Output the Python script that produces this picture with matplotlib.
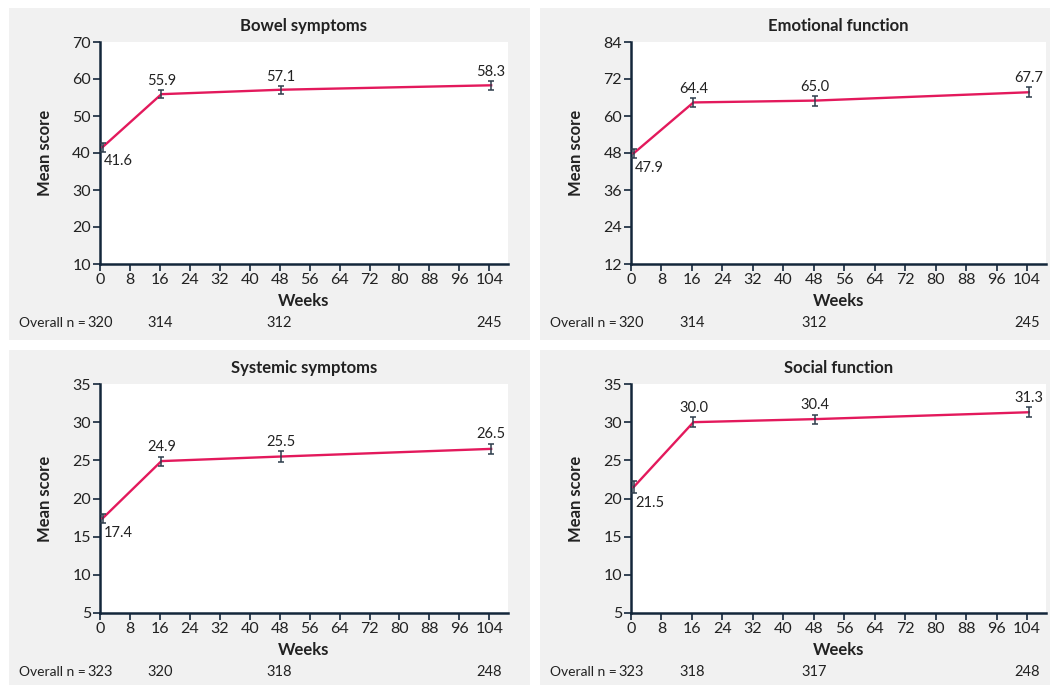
import matplotlib
matplotlib.use("Agg")
import matplotlib.pyplot as plt
from matplotlib.patches import Rectangle
import numpy as np

plt.rcParams['font.family'] = ['Lato', 'DejaVu Sans']

# visit weeks (plotted slightly after the nominal week) and nominal weeks for n row
weeks = [0.7, 16.4, 48.4, 104.5]
n_weeks = [0, 16, 48, 104]

titles = ["Bowel symptoms", "Emotional function", "Systemic symptoms", "Social function"]
means = [
    [41.6, 55.9, 57.1, 58.3],
    [47.9, 64.4, 65.0, 67.7],
    [17.4, 24.9, 25.5, 26.5],
    [21.5, 30.0, 30.4, 31.3],
]
errors = [
    [1.2, 1.0, 1.1, 1.2],
    [1.5, 1.4, 1.6, 1.6],
    [0.6, 0.6, 0.7, 0.7],
    [0.8, 0.65, 0.6, 0.65],
]
n_counts = [
    [320, 314, 312, 245],
    [320, 314, 312, 245],
    [323, 320, 318, 248],
    [323, 318, 317, 248],
]
y_ranges = [(10, 70, 10), (12, 84, 12), (5, 35, 5), (5, 35, 5)]
x_ticks = list(range(0, 105, 8))

W, H = 1050, 686
fig = plt.figure(figsize=(W / 100, H / 100), dpi=100)
fig.patch.set_facecolor('white')

line_col = '#e3195c'
err_col = '#2e3d4c'
axis_col = '#13263a'
text_col = '#222222'
panel_col = '#f1f1f1'

# panel boxes (pixels: x0, y0 top, x1, y1 bottom) and axes boxes
panels = [(9, 8, 530, 340), (540, 8, 1050, 340), (9, 350, 530, 685), (540, 350, 1050, 685)]
axes_px = [(100, 42, 508, 264), (631, 42, 1046, 264), (100, 384, 508, 613), (631, 384, 1046, 613)]


def to_fig(x0, y0, x1, y1):
    return [x0 / W, 1 - y1 / H, (x1 - x0) / W, (y1 - y0) / H]


for i in range(4):
    px = panels[i]
    fig.patches.append(Rectangle((px[0] / W, 1 - px[3] / H), (px[2] - px[0]) / W, (px[3] - px[1]) / H,
                                 transform=fig.transFigure, facecolor=panel_col, edgecolor='none', zorder=-5))

    ax = fig.add_axes(to_fig(*axes_px[i]))
    ax.set_zorder(2)
    ax.set_facecolor('white')
    lo, hi, step = y_ranges[i]
    ax.set_ylim(lo, hi)
    ax.set_xlim(0, 109)
    ax.set_yticks(np.arange(lo, hi + 0.1, step))
    ax.set_xticks(x_ticks)

    for s in ['top', 'right']:
        ax.spines[s].set_visible(False)
    for s in ['left', 'bottom']:
        ax.spines[s].set_color(axis_col)
        ax.spines[s].set_linewidth(1.8)
    ax.tick_params(direction='out', length=5, width=1.2, color=axis_col,
                   labelsize=11.5, labelcolor=text_col, pad=1.5)

    y = means[i]
    e = errors[i]
    ax.plot(weeks, y, color=line_col, lw=1.7, zorder=3, clip_on=False)
    ax.errorbar(weeks, y, yerr=e, fmt='none', ecolor=err_col, elinewidth=1.1,
                capsize=2.5, capthick=1.1, zorder=4, clip_on=False)

    for j in range(4):
        if j == 0:
            ax.annotate(f"{y[j]:.1f}", (weeks[j], y[j] - e[j]), xytext=(1, -2),
                        textcoords='offset points', ha='left', va='top',
                        fontsize=10.5, color=text_col)
        else:
            ax.annotate(f"{y[j]:.1f}", (weeks[j], y[j] + e[j]), xytext=(0, 1.5),
                        textcoords='offset points', ha='center', va='bottom',
                        fontsize=10.5, color=text_col)

    ax.set_title(titles[i], fontsize=12, fontweight='bold', color=text_col, pad=8)
    ax.set_ylabel("Mean score", fontsize=12, fontweight='bold', color=text_col, labelpad=14)
    ax.set_xlabel("Weeks", fontsize=12, fontweight='bold', color=text_col, labelpad=4)

    # number of patients row under the axis
    trans = ax.get_xaxis_transform()
    n_y = -(323 - 264) / (264 - 42) if i < 2 else -(672 - 613) / (613 - 384)
    for j in range(4):
        ax.text(n_weeks[j], n_y, str(n_counts[i][j]), transform=trans, ha='center', va='center',
                fontsize=10.5, color=text_col)
    ax.text((panels[i][0] + 10 - axes_px[i][0]) / (axes_px[i][2] - axes_px[i][0]), n_y, "Overall n =",
            transform=ax.transAxes, ha='left', va='center', fontsize=10, color=text_col)

fig.savefig("out.png", dpi=100, facecolor='white')
